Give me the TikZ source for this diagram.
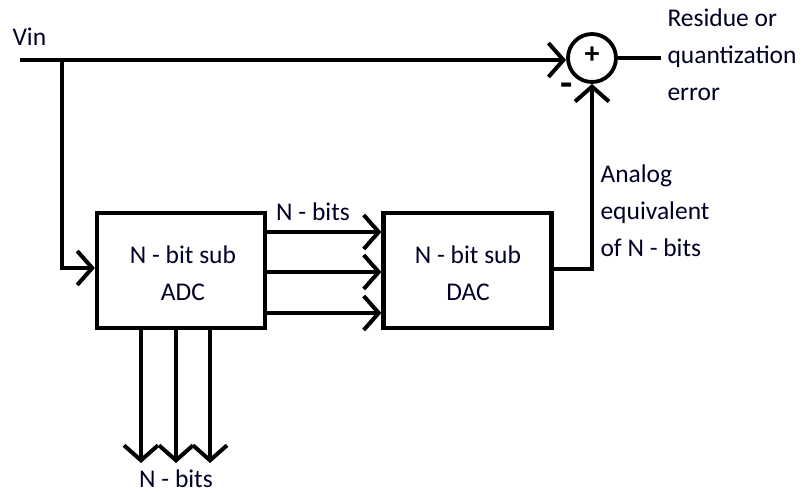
\documentclass[tikz,border=0pt]{standalone}
\usepackage{fontspec}
\setmainfont{Carlito}
\usetikzlibrary{arrows.meta}
\begin{document}
\begin{tikzpicture}[x=1pt,y=-1pt,
  wire/.style={line width=4.2pt},
  arr/.style={wire,-{Straight Barb[length=15pt,width=34pt,line width=4pt]}},
  blk/.style={draw,line width=4.2pt,minimum width=168pt,minimum height=115pt,inner sep=0pt},
  txt/.style={font=\fontsize{25.5}{37}\selectfont,text=black!85!blue},
  lbl/.style={txt,align=left,anchor=north west}]
\useasboundingbox (0,0) rectangle (804,493);
\node[blk] (adc) at (181,270.5) {};
\node[txt,align=center] at (183,273) {N - bit sub\\ADC};
\node[blk] (dac) at (467.5,270.5) {};
\node[txt,align=center] at (468,273) {N - bit sub\\DAC};
\node[draw,circle,line width=3.8pt,minimum size=48pt,inner sep=0pt] (sum) at (592,58) {};
\node[font=\fontsize{30}{30}\selectfont\bfseries] at (592,55) {+};
\node[font=\fontsize{40}{40}\selectfont\bfseries] at (567,90) {-};
\coordinate (vin) at (20,60);
\coordinate (br) at (62,60);
\coordinate (out) at (661,58);
\node[txt,anchor=west] at (9,37) {Vin};
\draw[arr] (vin) -- (sum.west|-vin);
\draw[arr] (br) |- (adc.west|-0,268);
\foreach \y in {232,272,313}
  \draw[arr] (adc.east|-0,\y) -- (dac.west|-0,\y);
\node[txt] at (313,212) {N - bits};
\foreach \x in {141,176,210}
  \draw[arr] (\x,0|-adc.south) -- (\x,463);
\node[txt] at (176,479) {N - bits};
\draw[arr] (dac.east|-0,269) -| (sum.south);
\draw[wire] (sum.east) -- (out);
\node[lbl] at (664,5) {Residue or\\quantization\\error};
\node[lbl] at (597,161) {Analog\\equivalent\\of N - bits};
\end{tikzpicture}
\end{document}
